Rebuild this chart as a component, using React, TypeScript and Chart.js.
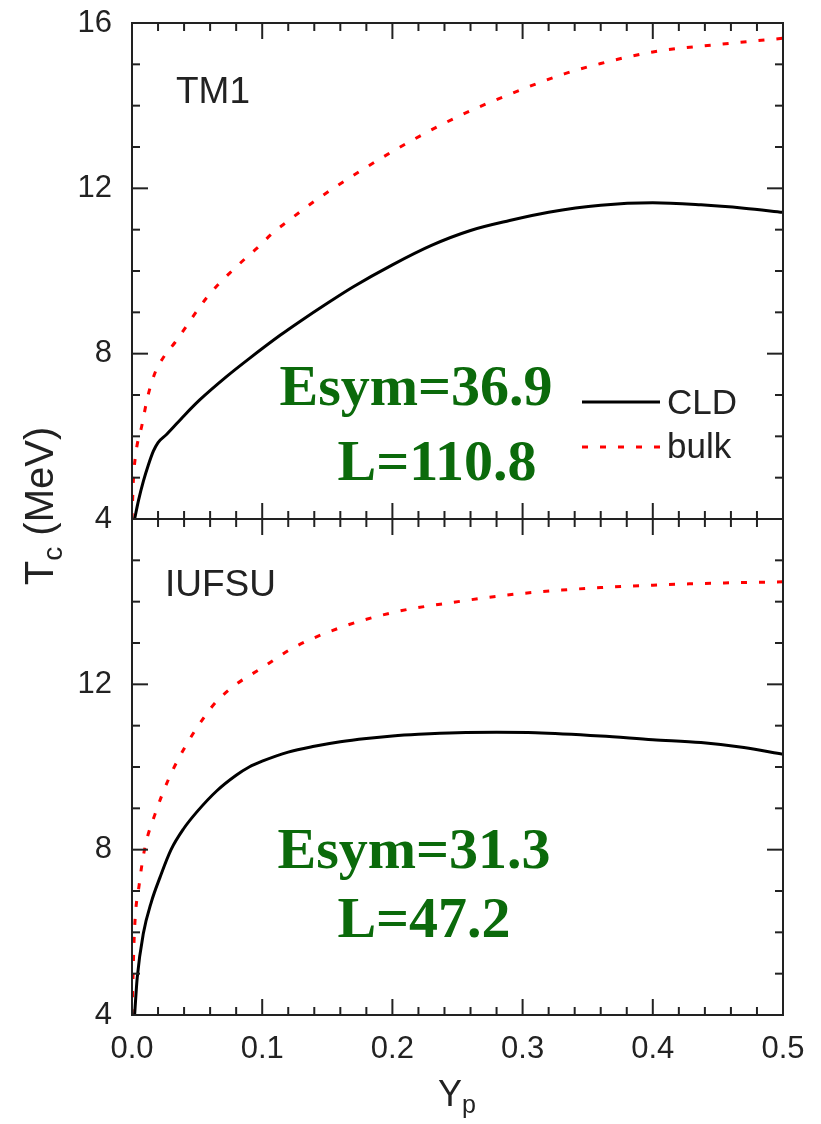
import React, { useEffect, useRef } from 'react';
import { Chart, registerables } from 'chart.js';

Chart.register(...registerables);

// ---------- data ----------
const xTickLabels = ['0.0', '0.1', '0.2', '0.3', '0.4', '0.5'];
// shared left axis: values -8..16 on the top-panel scale; lower half shows the bottom panel
const yTickLabels = ['4', '8', '12', '4', '8', '12', '16'];

const tm1CldX = [0.002, 0.005, 0.0087, 0.0125, 0.0164, 0.02, 0.0267, 0.04, 0.052, 0.0728, 0.09, 0.114, 0.129, 0.15, 0.17, 0.2, 0.23, 0.26, 0.29, 0.32, 0.36, 0.4, 0.437, 0.47, 0.5];
const tm1CldY = [4.0, 4.45, 4.91, 5.3, 5.64, 5.85, 6.05, 6.5, 6.88, 7.45, 7.88, 8.45, 8.78, 9.22, 9.62, 10.15, 10.62, 10.98, 11.22, 11.42, 11.59, 11.65, 11.6, 11.52, 11.42];

const tm1BulkX = [0.0, 0.001, 0.003, 0.0075, 0.012, 0.0177, 0.025, 0.033, 0.05, 0.0575, 0.0664, 0.0767, 0.0869, 0.098, 0.108, 0.119, 0.142, 0.178, 0.215, 0.252, 0.292, 0.332, 0.36, 0.4, 0.45, 0.5];
const tm1BulkY = [4.0, 4.9, 5.6, 6.25, 6.95, 7.54, 7.95, 8.27, 9.04, 9.36, 9.68, 10.0, 10.3, 10.61, 10.92, 11.19, 11.73, 12.47, 13.16, 13.76, 14.3, 14.77, 15.02, 15.3, 15.48, 15.63];

const iufsuCldX = [0.002, 0.004, 0.0087, 0.015, 0.0215, 0.03, 0.0395, 0.05, 0.065, 0.08, 0.09, 0.1, 0.12, 0.14, 0.16, 0.18, 0.2, 0.22, 0.25, 0.28, 0.31, 0.36, 0.4, 0.437, 0.47, 0.5];
const iufsuCldY = [4.0, 4.9, 5.97, 6.75, 7.33, 8.0, 8.5, 8.92, 9.42, 9.8, 10.0, 10.14, 10.36, 10.5, 10.61, 10.69, 10.75, 10.79, 10.83, 10.84, 10.83, 10.75, 10.66, 10.59, 10.47, 10.31];

const iufsuBulkX = [0.0, 0.0018, 0.0056, 0.01, 0.0177, 0.028, 0.041, 0.056, 0.065, 0.08, 0.1, 0.123, 0.1625, 0.2036, 0.246, 0.288, 0.33, 0.36, 0.4, 0.45, 0.5];
const iufsuBulkY = [4.0, 5.97, 7.17, 8.06, 8.86, 9.7, 10.5, 11.23, 11.59, 12.0, 12.4, 12.87, 13.4, 13.76, 13.98, 14.16, 14.28, 14.34, 14.4, 14.45, 14.48];

const panelLabels = ['TM1', 'IUFSU'];
const annotTop = ['Esym=36.9', 'L=110.8'];
const annotBottom = ['Esym=31.3', 'L=47.2'];
const legendLabels = ['CLD', 'bulk'];

const pts = (xs: number[], ys: number[]) => xs.map((x, i) => ({ x, y: ys[i] }));

const SANS = '"Liberation Sans", Arial, sans-serif';
const SERIF = '"Liberation Serif", "Times New Roman", serif';
const INK = '#222';
const RED = '#ff0000';
const GREEN = '#0b6a0b';
const RED_DASH = [6, 12];

const decor = {
  id: 'decor',
  afterDraw(chart: any) {
    const { ctx, chartArea: a, scales } = chart;
    const xs = scales.x, yt = scales.y, yb = scales.yBot;
    const line = (x1: number, y1: number, x2: number, y2: number) => {
      ctx.beginPath(); ctx.moveTo(x1, y1); ctx.lineTo(x2, y2); ctx.stroke();
    };
    ctx.save();
    ctx.strokeStyle = INK;
    ctx.lineWidth = 2;
    ctx.lineCap = 'butt';
    ctx.strokeRect(a.left, a.top, a.right - a.left, a.bottom - a.top);
    const mid = yt.getPixelForValue(4);
    line(a.left, mid, a.right, mid);
    // x ticks (inward)
    for (let i = 0; i <= 25; i++) {
      const px = xs.getPixelForValue(i * 0.02);
      const L = i % 5 === 0 ? 16 : 8;
      line(px, a.bottom, px, a.bottom - L);
      line(px, a.top, px, a.top + L);
      line(px, mid - L, px, mid + L);
    }
    // y ticks (inward, both sides)
    for (let v = 4; v <= 16; v++) {
      const L = v % 4 === 0 ? 16 : 8;
      for (const s of [yt, yb]) {
        const py = s.getPixelForValue(v);
        line(a.left, py, a.left + L, py);
        line(a.right, py, a.right - L, py);
      }
    }

    // panel labels
    ctx.fillStyle = INK;
    ctx.font = `37px ${SANS}`;
    ctx.textAlign = 'left';
    ctx.textBaseline = 'alphabetic';
    ctx.fillText(panelLabels[0], 176, 103);
    ctx.fillText(panelLabels[1], 165, 596);

    // legend
    ctx.lineWidth = 3;
    ctx.strokeStyle = '#000';
    line(582, 402, 660, 402);
    ctx.strokeStyle = RED;
    ctx.setLineDash(RED_DASH);
    line(582, 447, 660, 447);
    ctx.setLineDash([]);
    ctx.fillStyle = INK;
    ctx.font = `35px ${SANS}`;
    ctx.fillText(legendLabels[0], 667, 414);
    ctx.fillText(legendLabels[1], 667, 458);

    // green annotations
    ctx.fillStyle = GREEN;
    ctx.font = `bold 58px ${SERIF}`;
    ctx.textAlign = 'center';
    ctx.fillText(annotTop[0], 416, 405);
    ctx.fillText(annotTop[1], 437, 480);
    ctx.fillText(annotBottom[0], 414, 868);
    ctx.fillText(annotBottom[1], 424, 937);

    // y title: T_c (MeV)
    ctx.fillStyle = INK;
    const big = `40px ${SANS}`, small = `28px ${SANS}`;
    ctx.save();
    ctx.translate(53, 506);
    ctx.rotate(-Math.PI / 2);
    ctx.font = big; const wT = ctx.measureText('T').width; const wRest = ctx.measureText(' (MeV)').width;
    ctx.font = small; const wc = ctx.measureText('c').width;
    let x0 = -(wT + wc + wRest) / 2;
    ctx.textAlign = 'left';
    ctx.font = big; ctx.fillText('T', x0, 0); x0 += wT;
    ctx.font = small; ctx.fillText('c', x0, 9); x0 += wc;
    ctx.font = big; ctx.fillText(' (MeV)', x0, 0);
    ctx.restore();

    // x title: Y_p
    ctx.textAlign = 'left';
    const bigX = `36px ${SANS}`, smallX = `25px ${SANS}`;
    ctx.font = bigX; const wY = ctx.measureText('Y').width;
    ctx.font = smallX; const wp = ctx.measureText('p').width;
    let xx = 457 - (wY + wp) / 2;
    ctx.font = bigX; ctx.fillText('Y', xx, 1106); xx += wY;
    ctx.font = smallX; ctx.fillText('p', xx, 1113);
    ctx.restore();
  },
};

export default function App() {
  const ref = useRef<HTMLCanvasElement | null>(null);
  useEffect(() => {
    if (!ref.current) return;
    const chart = new Chart(ref.current, {
      type: 'line',
      data: {
        datasets: [
          { label: 'TM1 CLD', data: pts(tm1CldX, tm1CldY), yAxisID: 'y', borderColor: '#000', borderWidth: 3, pointRadius: 0, cubicInterpolationMode: 'monotone', fill: false },
          { label: 'TM1 bulk', data: pts(tm1BulkX, tm1BulkY), yAxisID: 'y', borderColor: RED, borderWidth: 3, borderDash: RED_DASH, pointRadius: 0, cubicInterpolationMode: 'monotone', fill: false },
          { label: 'IUFSU CLD', data: pts(iufsuCldX, iufsuCldY), yAxisID: 'yBot', borderColor: '#000', borderWidth: 3, pointRadius: 0, cubicInterpolationMode: 'monotone', fill: false },
          { label: 'IUFSU bulk', data: pts(iufsuBulkX, iufsuBulkY), yAxisID: 'yBot', borderColor: RED, borderWidth: 3, borderDash: RED_DASH, pointRadius: 0, cubicInterpolationMode: 'monotone', fill: false },
        ],
      },
      options: {
        responsive: false,
        animation: false,
        devicePixelRatio: 1,
        layout: { padding: { left: 0, top: 23, right: 38, bottom: 0 } },
        plugins: { legend: { display: false }, tooltip: { enabled: false }, title: { display: false } },
        scales: {
          x: {
            type: 'linear', min: 0, max: 0.5,
            grid: { display: false, drawTicks: false },
            border: { display: false },
            ticks: {
              stepSize: 0.1, padding: 16, color: INK,
              font: { family: SANS, size: 31 },
              callback: (_v: any, i: number) => xTickLabels[i],
            },
            afterFit: (s: any) => { s.height = 109; s.paddingLeft = 0; s.paddingRight = 0; },
          },
          y: {
            type: 'linear', position: 'left', min: -8, max: 16,
            grid: { display: false, drawTicks: false },
            border: { display: false },
            ticks: {
              stepSize: 4, padding: 20, color: INK,
              font: { family: SANS, size: 31 },
              callback: (_v: any, i: number) => yTickLabels[i],
            },
            afterFit: (s: any) => { s.width = 132; s.paddingTop = 0; s.paddingBottom = 0; },
          },
          yBot: {
            type: 'linear', position: 'left', min: 4, max: 28, display: false,
          },
        },
      },
      plugins: [decor],
    } as any);
    return () => chart.destroy();
  }, []);
  return (
    <div style={{ position: 'absolute', left: 0, top: 0, width: 821, height: 1124, background: '#fff' }}>
      <canvas ref={ref} width={821} height={1124} style={{ width: 821, height: 1124, display: 'block' }} />
    </div>
  );
}
